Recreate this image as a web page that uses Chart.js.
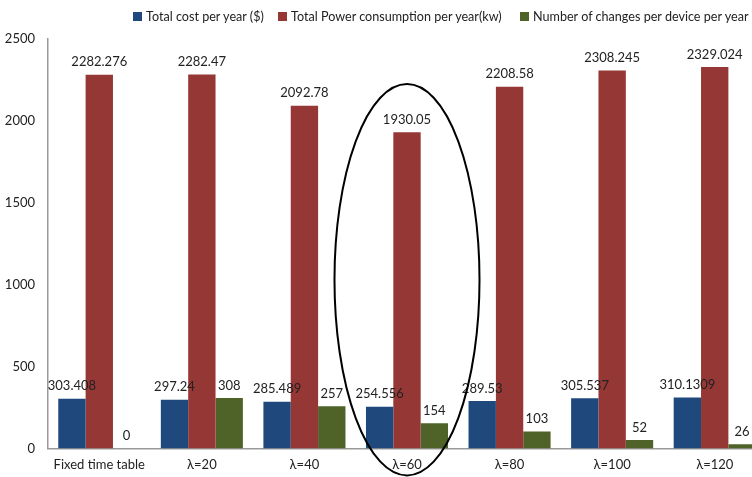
<!DOCTYPE html>
<html>
<head>
<meta charset="utf-8">
<script src="https://cdn.jsdelivr.net/npm/chart.js@4"></script>
<style>
  html, body { margin: 0; padding: 0; background: #fff; overflow: hidden; }
  #wrap { position: relative; width: 752px; height: 477px; overflow: hidden; }
  #chart-box { position: absolute; left: 0; top: 0; width: 766px; height: 486px; }
  #legend { position: absolute; top: 9px; left: 0; width: 752px; height: 18px;
            font-family: Lato, "Liberation Sans", sans-serif; font-size: 12.6px; color: #222; white-space: nowrap; }
  #legend div { position: absolute; top: 0; }
  #legend span.box { display: inline-block; width: 9px; height: 9px; margin-right: 4px; vertical-align: 0px; }
</style>
</head>
<body>
<div id="wrap">
  <div id="chart-box"><canvas id="chart" width="766" height="486"></canvas></div>
  <div id="legend"></div>
</div>
<script>
// chart data
const categories = ['Fixed time table', 'λ=20', 'λ=40', 'λ=60', 'λ=80', 'λ=100', 'λ=120'];
const costPerYear = [303.408, 297.24, 285.489, 254.556, 289.53, 305.537, 310.1309];
const powerPerYear = [2282.276, 2282.47, 2092.78, 1930.05, 2208.58, 2308.245, 2329.024];
const changesPerDevice = [0, 308, 257, 154, 103, 52, 26];
const seriesNames = ['Total cost per year ($)', 'Total Power consumption per year(kw)', 'Number of changes per device per year'];
const yTicks = [0, 500, 1000, 1500, 2000, 2500];

const colors = ['#1F497D', '#953735', '#4F6228'];
const fontFamily = 'Lato, "Liberation Sans", sans-serif';

// legend as html, items placed like the original
const legendLeft = [133, 278, 520];
document.getElementById('legend').innerHTML = seriesNames.map((n, i) =>
  `<div style="left:${legendLeft[i]}px"><span class="box" style="background:${colors[i]}"></span>${n}</div>`).join('');

// value labels above each bar
const barLabels = {
  id: 'barLabels',
  afterDatasetsDraw(chart) {
    const ctx = chart.ctx;
    ctx.save();
    ctx.font = '13px ' + fontFamily;
    ctx.fillStyle = '#222';
    ctx.textAlign = 'center';
    ctx.textBaseline = 'bottom';
    chart.data.datasets.forEach((ds, di) => {
      chart.getDatasetMeta(di).data.forEach((bar, i) => {
        ctx.fillText(String(ds.data[i]), bar.x, bar.y - 6);
      });
    });
    ctx.restore();
  }
};

// ellipse around the λ=60 group
const ellipse = {
  id: 'ellipse',
  afterDraw(chart) {
    const x = chart.scales.x, y = chart.scales.y;
    const cx = x.getPixelForValue(3);
    const catW = (x.right - x.left) / categories.length;
    const top = y.getPixelForValue(2225), bottom = y.getPixelForValue(-165);
    const ctx = chart.ctx;
    ctx.save();
    ctx.strokeStyle = '#000';
    ctx.lineWidth = 2;
    ctx.beginPath();
    ctx.ellipse(cx, (top + bottom) / 2, catW * 0.707, (bottom - top) / 2, 0, 0, Math.PI * 2);
    ctx.stroke();
    ctx.restore();
  }
};

new Chart(document.getElementById('chart'), {
  type: 'bar',
  data: {
    labels: categories,
    datasets: [
      { label: seriesNames[0], data: costPerYear, backgroundColor: colors[0] },
      { label: seriesNames[1], data: powerPerYear, backgroundColor: colors[1] },
      { label: seriesNames[2], data: changesPerDevice, backgroundColor: colors[2] }
    ]
  },
  options: {
    responsive: false,
    animation: false,
    layout: { padding: { left: 0, top: 39, right: 0, bottom: 4 } },
    datasets: { bar: { categoryPercentage: 0.8, barPercentage: 1.0 } },
    plugins: {
      legend: { display: false },
      tooltip: { enabled: false }
    },
    scales: {
      x: {
        grid: { display: false, drawTicks: false },
        border: { color: '#999', width: 1.5 },
        ticks: { color: '#222', font: { family: fontFamily, size: 13 }, padding: 9, maxRotation: 0 },
        afterFit(scale) { scale.paddingLeft = 0; scale.paddingRight = 0; }
      },
      y: {
        min: 0, max: 2500,
        afterBuildTicks(axis) { axis.ticks = yTicks.map(v => ({ value: v })); },
        grid: { display: false, drawTicks: false },
        border: { color: '#999', width: 1.5 },
        ticks: { color: '#222', font: { family: fontFamily, size: 13 }, padding: 13, callback: v => String(v) },
        afterFit(scale) { scale.width = 48; }
      }
    }
  },
  plugins: [barLabels, ellipse]
});
</script>
</body>
</html>
